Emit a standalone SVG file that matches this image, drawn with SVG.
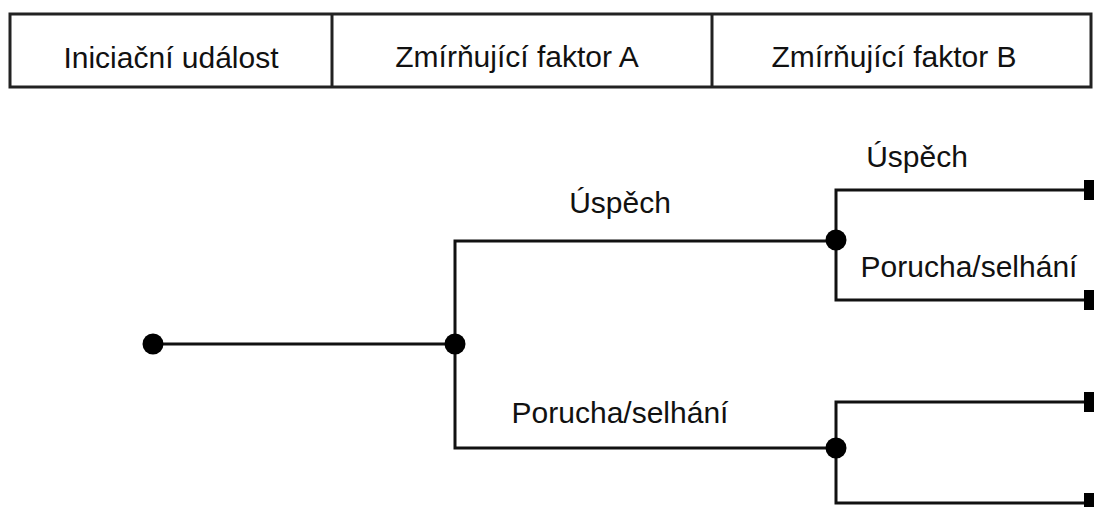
<svg xmlns="http://www.w3.org/2000/svg" width="1094" height="507" viewBox="0 0 1094 507">
  <style>
    .box { fill: #ffffff; stroke: #222222; stroke-width: 3; }
    .wire { fill: none; stroke: #111111; stroke-width: 3; }
    .dot { fill: #000000; }
    .end { fill: #000000; }
    text { font-family: "Liberation Sans", Arial, sans-serif; font-size: 30px; fill: #111111; text-anchor: middle; }
  </style>
  <rect width="1094" height="507" fill="#ffffff"/>

  <!-- column headers -->
  <g id="header">
    <rect class="box" x="10" y="14" width="1081" height="73"/>
    <line class="box" x1="332" y1="14" x2="332" y2="87"/>
    <line class="box" x1="712" y1="14" x2="712" y2="87"/>
    <text x="171" y="68">Iniciační událost</text>
    <text x="517" y="67">Zmírňující faktor A</text>
    <text x="894" y="67">Zmírňující faktor B</text>
  </g>

  <!-- branch lines -->
  <g id="connectors">
    <line class="wire" x1="153" y1="344" x2="455" y2="344"/>
    <polyline class="wire" points="836,241 455,241 455,448 836,448"/>
    <polyline class="wire" points="1088,190 836,190 836,300 1088,300"/>
    <polyline class="wire" points="1088,402 836,402 836,503 1088,503"/>
  </g>

  <g id="initiating-event">
    <circle class="dot" cx="153" cy="344" r="10.5"/>
  </g>

  <g id="factor-a">
    <circle class="dot" cx="455" cy="344" r="10.5"/>
    <text x="620" y="213">Úspěch</text>
    <text x="620" y="423">Porucha/selhání</text>
  </g>

  <g id="factor-b-success">
    <circle class="dot" cx="836" cy="240" r="10.5"/>
    <text x="917" y="167">Úspěch</text>
    <text x="969" y="277">Porucha/selhání</text>
  </g>

  <g id="factor-b-failure">
    <circle class="dot" cx="836" cy="448" r="10.5"/>
  </g>

  <!-- outcome terminals -->
  <g id="outcomes">
    <rect class="end" x="1084" y="180" width="10" height="20"/>
    <rect class="end" x="1084" y="290" width="10" height="20"/>
    <rect class="end" x="1084" y="392" width="10" height="20"/>
    <rect class="end" x="1084" y="493" width="10" height="20"/>
  </g>
</svg>
